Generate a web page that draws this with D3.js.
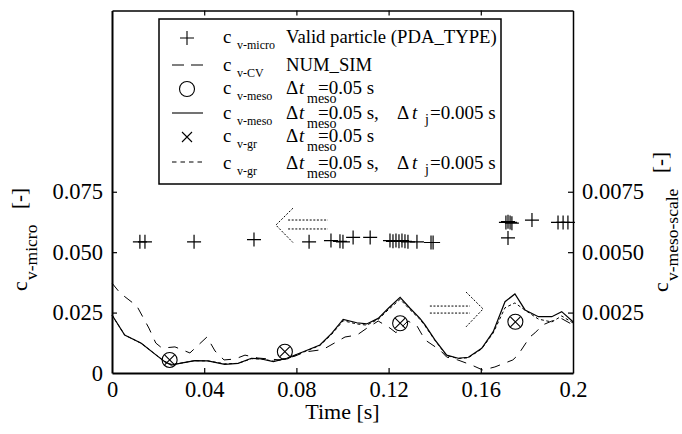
<!DOCTYPE html>
<html><head><meta charset="utf-8">
<script src="https://cdn.jsdelivr.net/npm/d3@7"></script>
<style>
body{margin:0;background:#fff}
svg{display:block}
text{font-family:"Liberation Serif","Times New Roman","DejaVu Serif",serif;fill:#000}
</style>
</head><body>
<svg id="chart" width="682" height="434"></svg>
<script>
// ---------- data ----------
const xTicks = [0, 0.04, 0.08, 0.12, 0.16, 0.2];
const xTickLabels = ["0", "0.04", "0.08", "0.12", "0.16", "0.2"];
const topTicks = [0.04, 0.08, 0.12, 0.16];
const yLeftTicks = [0, 0.025, 0.05, 0.075];
const yLeftTickLabels = ["0", "0.025", "0.050", "0.075"];
const yRightTicks = [0.0025, 0.005, 0.0075];
const yRightTickLabels = ["0.0025", "0.0050", "0.0075"];

// c_v-micro, valid particles (left axis)
const pdaTime  = [0.0121,0.0143,0.0356,0.0616,0.0855,0.0950,0.0989,0.1002,0.1046,0.1120,
                  0.1206,0.1219,0.1232,0.1245,0.1258,0.1271,0.1284,0.1323,0.1384,0.1393,
                  0.1709,0.1718,0.1727,0.1735,0.1718,0.1822,0.1935,0.1957,0.1978];
const pdaValue = [0.0543,0.0543,0.0543,0.0552,0.0543,0.0548,0.0545,0.0543,0.0561,0.0561,
                  0.0548,0.0545,0.0548,0.0545,0.0548,0.0545,0.0543,0.0543,0.0540,0.0540,
                  0.0623,0.0626,0.0623,0.0620,0.0559,0.0633,0.0623,0.0623,0.0623];

// c_v-CV NUM_SIM (left axis)
const cvTime  = [0,0.0035,0.0108,0.016,0.019,0.0217,0.0273,0.0338,0.0412,0.0447,0.0486,0.0534,
                 0.0577,0.0633,0.0729,0.0794,0.0837,0.0915,0.1011,0.1063,0.1105,0.1155,0.1206,
                 0.1232,0.1284,0.1323,0.1358,0.1423,0.1452,0.150,0.156,0.1609,0.1661,0.1739,
                 0.1761,0.1813,0.1835,0.1869,0.1908,0.1951,0.2];
const cvValue = [0.0372,0.0331,0.0277,0.0186,0.0124,0.0103,0.0108,0.0083,0.0149,0.0091,0.0054,0.0058,
                 0.0074,0.0062,0.0054,0.0070,0.0087,0.0097,0.0149,0.0157,0.0185,0.0215,0.0186,
                 0.0167,0.0215,0.0195,0.0137,0.0095,0.0066,0.0054,0.0033,0.0012,0.0025,0.0054,
                 0.0074,0.0149,0.0166,0.0199,0.0215,0.0225,0.0199];

// c_v-meso and c_v-gr, dt_meso = 0.05 s (right axis)
const mesoTime  = [0.025, 0.075, 0.125, 0.175];
const mesoValue = [0.00054, 0.00088, 0.00206, 0.00212];
const grValue   = [0.00054, 0.00088, 0.00206, 0.00212];

// c_v-meso and c_v-gr, dt_meso = 0.05 s, dt_j = 0.005 s (right axis)
const fineTime = [0,0.0055,0.0127,0.0192,0.0229,0.0257,0.0294,0.0359,0.0416,0.0489,0.0547,0.0605,
                  0.0648,0.070,0.0758,0.083,0.0902,0.0953,0.1003,0.1062,0.1105,0.1155,0.1199,0.125,
                  0.1293,0.1336,0.1358,0.1401,0.1452,0.1502,0.1546,0.1604,0.1654,0.1705,0.1748,
                  0.1792,0.185,0.1908,0.1951,0.2];
const mesoFine = [0.0024,0.00157,0.00123,0.00074,0.00047,0.00033,0.0004,0.00051,0.0005,0.00036,0.0004,0.00061,
                  0.00058,0.00047,0.00061,0.00088,0.00116,0.00164,0.00222,0.00208,0.00203,0.00226,0.00268,0.00313,
                  0.00268,0.00226,0.00199,0.00137,0.00074,0.00061,0.00065,0.00102,0.00171,0.00295,0.00327,
                  0.00261,0.00233,0.00233,0.00254,0.00212];
const grFine   = [0.0024,0.00157,0.00123,0.00074,0.00047,0.00036,0.0004,0.00051,0.0005,0.00038,0.0004,0.00059,
                  0.00058,0.00049,0.00059,0.00086,0.00114,0.0016,0.00216,0.00203,0.00198,0.00222,0.00262,0.00305,
                  0.00262,0.00222,0.00195,0.00135,0.00072,0.0006,0.00063,0.001,0.00166,0.0027,0.0029,
                  0.0026,0.00223,0.00211,0.00236,0.00207];

// dotted arrows (data coordinates, left axis)
const arrowLeft  = {tipT:0.0711, tipV:0.0612, backT:0.0785, spanV:[0.0682,0.0540], shaftT:[0.0764,0.0937], shaftV:[0.0633,0.0596]};
const arrowRight = {tipT:0.1610, tipV:0.0265, backT:0.1536, spanV:[0.0335,0.0191], shaftT:[0.1379,0.1553], shaftV:[0.0277,0.0248]};

// legend
const legendSymbols = ["plus","dash","circle","solid","cross","dot"];
const legendSubs = ["v-micro","v-CV","v-meso","v-meso","v-gr","v-gr"];
const legendDescs = ["Valid particle (PDA_TYPE)","NUM_SIM","meso","mesoJ","meso","mesoJ"];

// ---------- chart ----------
const W = 682, H = 434;
const M = {left:112, right:109, top:10.5, bottom:61};
const svg = d3.select("#chart");
const x = d3.scaleLinear([0, 0.2], [M.left, W - M.right]);
const yL = d3.scaleLinear([0, 0.15], [H - M.bottom, M.top]);
const yR = d3.scaleLinear([0, 0.015], [H - M.bottom, M.top]);
const FONT = '"Liberation Serif","Times New Roman","DejaVu Serif",serif';

// curves
const lineL = d3.line().x(d => x(d[0])).y(d => yL(d[1]));
const lineR = d3.line().x(d => x(d[0])).y(d => yR(d[1]));

svg.append("path").datum(cvTime.map((t,i)=>[t,cvValue[i]])).attr("d", lineL)
  .attr("fill","none").attr("stroke","#000").attr("stroke-width",1).attr("stroke-dasharray","10,8");
svg.append("path").datum(fineTime.map((t,i)=>[t,grFine[i]])).attr("d", lineR)
  .attr("fill","none").attr("stroke","#000").attr("stroke-width",1).attr("stroke-dasharray","3,2.5");
svg.append("path").datum(fineTime.map((t,i)=>[t,mesoFine[i]])).attr("d", lineR)
  .attr("fill","none").attr("stroke","#000").attr("stroke-width",1.2);

// circles and crosses
const mk = svg.append("g").attr("stroke","#000").attr("fill","none").attr("stroke-width",1.1);
mesoTime.forEach((t,i) => {
  mk.append("circle").attr("cx", x(t)).attr("cy", yR(mesoValue[i])).attr("r", 7.5);
  const cx = x(t), cy = yR(grValue[i]), s = 5;
  mk.append("path").attr("d", `M${cx-s},${cy-s}L${cx+s},${cy+s}M${cx-s},${cy+s}L${cx+s},${cy-s}`);
});

// plus markers
const pl = svg.append("g").attr("stroke","#000").attr("stroke-width",1.2);
pdaTime.forEach((t,i) => {
  const cx = x(t), cy = yL(pdaValue[i]), s = 7;
  pl.append("path").attr("d", `M${cx-s},${cy}L${cx+s},${cy}M${cx},${cy-s}L${cx},${cy+s}`);
});

// arrows
function drawArrow(a){
  const g = svg.append("g").attr("stroke","#000").attr("fill","none").attr("stroke-width",1).attr("stroke-dasharray","2,1.6");
  g.append("path").attr("d", `M${x(a.backT)},${yL(a.spanV[0])}L${x(a.tipT)},${yL(a.tipV)}L${x(a.backT)},${yL(a.spanV[1])}`);
  a.shaftV.forEach(v => g.append("path").attr("d", `M${x(a.shaftT[0])},${yL(v)}L${x(a.shaftT[1])},${yL(v)}`));
}
drawArrow(arrowLeft); drawArrow(arrowRight);

// axes
function styleAxis(g){
  g.attr("font-family", FONT).attr("font-size", 22.5);
  g.selectAll(".tick line").attr("stroke","#000").attr("stroke-width",1.2);
  g.selectAll("text").attr("fill","#000");
}
const gB = svg.append("g").attr("transform",`translate(0,${H-M.bottom})`)
  .call(d3.axisBottom(x).tickValues(xTicks).tickFormat((d,i)=>xTickLabels[i]).tickSizeInner(-5).tickSizeOuter(0).tickPadding(8));
styleAxis(gB); gB.select(".domain").attr("stroke-width",2);
gB.selectAll(".tick").filter(d => d === 0 || d === 0.2).select("line").remove();

const gT = svg.append("g").attr("transform",`translate(0,${M.top})`)
  .call(d3.axisTop(x).tickValues(topTicks).tickFormat("").tickSizeInner(-5).tickSizeOuter(0));
styleAxis(gT); gT.select(".domain").attr("stroke-width",1.5);

const gL = svg.append("g").attr("transform",`translate(${M.left},0)`)
  .call(d3.axisLeft(yL).tickValues(yLeftTicks).tickFormat((d,i)=>yLeftTickLabels[i]).tickSizeInner(-5).tickSizeOuter(0).tickPadding(9));
styleAxis(gL); gL.select(".domain").attr("stroke-width",2);
gL.selectAll(".tick").filter(d => d === 0).select("line").remove();

const gR = svg.append("g").attr("transform",`translate(${W-M.right},0)`)
  .call(d3.axisRight(yR).tickValues(yRightTicks).tickFormat((d,i)=>yRightTickLabels[i]).tickSizeInner(-5).tickSizeOuter(0).tickPadding(9));
styleAxis(gR); gR.select(".domain").attr("stroke-width",1.5);

// axis titles
svg.append("text").attr("x", (M.left + W - M.right)/2).attr("y", 419).attr("text-anchor","middle")
  .attr("font-size", 22).text("Time [s]");

function vTitle(tx, ty, sub, unitOffset){
  const g = svg.append("g").attr("transform", `translate(${tx},${ty}) rotate(-90)`);
  g.append("text").attr("x",0).attr("y",0).attr("font-size",22).text("c");
  g.append("text").attr("x",11).attr("y",10).attr("font-size",17.5).text(sub);
  g.append("text").attr("x",unitOffset).attr("y",-1).attr("font-size",21).text("[-]");
}
vTitle(27, 291, "v-micro", 82);
vTitle(668, 292, "v-meso-scale", 119);

// legend
const lg = svg.append("g").attr("transform","translate(159,19)");
lg.append("rect").attr("width",342).attr("height",165).attr("fill","#fff").attr("stroke","#000").attr("stroke-width",1.5);
const rowY = [19, 46, 70, 94, 118, 143];
const symX = 28, lineX0 = 13, lineX1 = 44;
legendSymbols.forEach((s,i) => {
  const y = rowY[i];
  const g = lg.append("g").attr("stroke","#000").attr("fill","none").attr("stroke-width",1.1);
  if (s === "plus") g.append("path").attr("d",`M${symX-7},${y}L${symX+7},${y}M${symX},${y-7}L${symX},${y+7}`);
  if (s === "dash") g.append("path").attr("d",`M${lineX0},${y}L${lineX1},${y}`).attr("stroke-dasharray","12,7");
  if (s === "circle") g.append("circle").attr("cx",symX).attr("cy",y).attr("r",7.5);
  if (s === "solid") g.append("path").attr("d",`M${lineX0},${y}L${lineX1},${y}`);
  if (s === "cross") g.append("path").attr("d",`M${symX-5},${y-5}L${symX+5},${y+5}M${symX-5},${y+5}L${symX+5},${y-5}`);
  if (s === "dot") g.append("path").attr("d",`M${lineX0},${y}L${lineX1},${y}`).attr("stroke-dasharray","4.5,4");
});
const txtBase = [24, 52, 75, 100, 123, 150];
legendSubs.forEach((sub,i) => {
  const b = txtBase[i];
  lg.append("text").attr("x",64).attr("y",b).attr("font-size",19).text("c");
  lg.append("text").attr("x",78).attr("y",b+6).attr("font-size",12).text(sub);
  const d = legendDescs[i];
  const tx = 127;
  if (d === "meso" || d === "mesoJ") {
    lg.append("text").attr("x",tx).attr("y",b).attr("font-size",19).text("\u0394");
    lg.append("text").attr("x",tx+13).attr("y",b).attr("font-size",19).attr("font-style","italic").text("t");
    lg.append("text").attr("x",tx+21).attr("y",b+9).attr("font-size",14).text("meso");
    lg.append("text").attr("x",tx+32).attr("y",b).attr("font-size",19).text(d === "meso" ? "=0.05 s" : "=0.05 s,");
    if (d === "mesoJ") {
      lg.append("text").attr("x",tx+111).attr("y",b).attr("font-size",19).text("\u0394");
      lg.append("text").attr("x",tx+126).attr("y",b).attr("font-size",19).attr("font-style","italic").text("t");
      lg.append("text").attr("x",tx+139).attr("y",b+5).attr("font-size",14).text("j");
      lg.append("text").attr("x",tx+144).attr("y",b).attr("font-size",19).text("=0.005 s");
    }
  } else {
    lg.append("text").attr("x",tx).attr("y",b).attr("font-size",18.7).text(d);
  }
});
</script>
</body></html>
